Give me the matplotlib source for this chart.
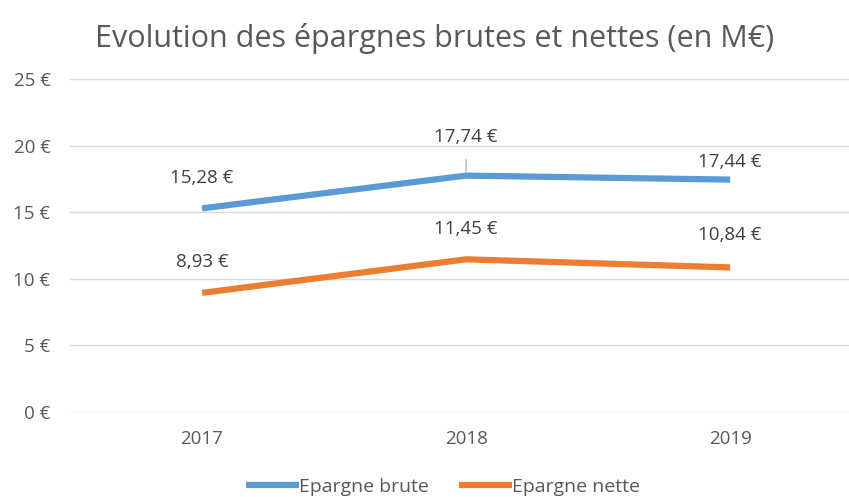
import matplotlib.pyplot as plt

years = ['2017', '2018', '2019']
brute = [15.28, 17.74, 17.44]
nette = [8.93, 11.45, 10.84]
brute_labels = ['15,28 €', '17,74 €', '17,44 €']
nette_labels = ['8,93 €', '11,45 €', '10,84 €']
y_ticks = [0, 5, 10, 15, 20, 25]
y_tick_labels = ['0 €', '5 €', '10 €', '15 €', '20 €', '25 €']

plt.rcParams['font.family'] = ['Open Sans', 'DejaVu Sans']

fig = plt.figure(figsize=(8.49, 4.97), dpi=100)
ax = fig.add_axes([70 / 849, 1 - 411.7 / 497, 1 - 70 / 849, (411.7 - 79) / 497])

x = range(len(years))
ax.plot(x, brute, color='#5B9BD5', lw=4.5, solid_capstyle='butt', label='Epargne brute', zorder=3)
ax.plot(x, nette, color='#ED7D31', lw=4.5, solid_capstyle='butt', label='Epargne nette', zorder=3)

# data labels (offsets in points)
brute_off = [(0, 22), (0, 28), (0, 13)]
nette_off = [(0, 22), (0, 22), (0, 23)]
for i in x:
    if i == 1:
        ax.annotate(brute_labels[i], (i, brute[i]), xytext=brute_off[i], textcoords='offset points',
                    ha='center', va='center', fontsize=13.5, color='#404040',
                    arrowprops=dict(arrowstyle='-', color='#A6A6A6', lw=0.8, shrinkA=8, shrinkB=3))
    else:
        ax.annotate(brute_labels[i], (i, brute[i]), xytext=brute_off[i], textcoords='offset points',
                    ha='center', va='center', fontsize=13.5, color='#404040')
    ax.annotate(nette_labels[i], (i, nette[i]), xytext=nette_off[i], textcoords='offset points',
                ha='center', va='center', fontsize=13.5, color='#404040')

ax.set_xlim(-0.5, 2.45)
ax.set_ylim(0, 25)
ax.set_xticks(list(x))
ax.set_xticklabels(years)
ax.set_yticks(y_ticks)
ax.set_yticklabels(y_tick_labels)
ax.tick_params(length=0, labelsize=13.5, labelcolor='#595959')
ax.tick_params(axis='y', pad=14)
ax.tick_params(axis='x', pad=13)
ax.grid(axis='y', color='#D9D9D9', lw=1)
ax.set_axisbelow(True)
for s in ax.spines.values():
    s.set_visible(False)

fig.text(0.512, 1 - 38 / 497, 'Evolution des épargnes brutes et nettes (en M€)',
         ha='center', va='center', fontsize=22, color='#595959')

fig.legend(loc='center', bbox_to_anchor=(443 / 849, 1 - 487 / 497), ncol=2, frameon=False,
           fontsize=14, labelcolor='#595959', handlelength=2.7, handletextpad=0.0,
           columnspacing=1.6)

fig.savefig('out.png', dpi=100)
